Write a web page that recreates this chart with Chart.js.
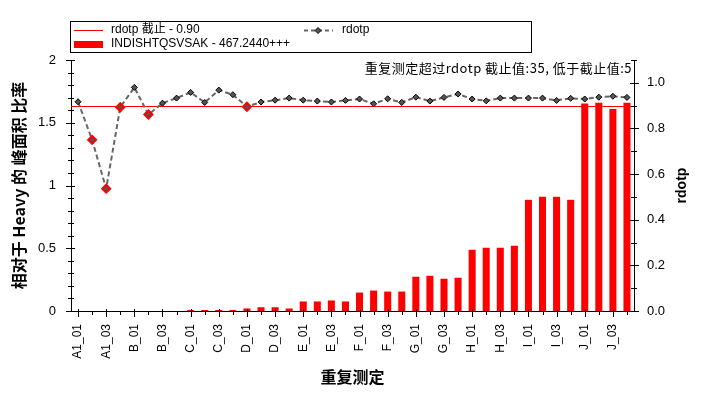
<!DOCTYPE html>
<html>
<head>
<meta charset="utf-8">
<script src="https://cdn.jsdelivr.net/npm/chart.js@4.4.1/dist/chart.umd.min.js"></script>
<style>
  body { margin: 0; background: #fff; }
  canvas { display: block; }
</style>
</head>
<body>
<canvas id="rdotp" width="702" height="398"></canvas>
<script>
const groups = ['A1', 'B', 'C', 'D', 'E', 'F', 'G', 'H', 'I', 'J'];
const replicates = ['01', '02', '03', '04'];
const categories = groups.flatMap(g => replicates.map(r => g + '_' + r));

// peak area ratio to heavy (left axis)
const areaRatio = [
    0, 0, 0, 0, 0, 0, 0, 0,
    0.008, 0.008, 0.008, 0.008,
    0.02, 0.03, 0.03, 0.02,
    0.076, 0.076, 0.084, 0.076,
    0.147, 0.163, 0.155, 0.155,
    0.273, 0.281, 0.257, 0.265,
    0.488, 0.504, 0.504, 0.52,
    0.886, 0.91, 0.91, 0.886,
    1.653, 1.66, 1.61, 1.66
];

// rdotp (right axis)
const rdotp = [
    0.917, 0.75, 0.536, 0.893, 0.98, 0.861, 0.911, 0.933,
    0.958, 0.914, 0.968, 0.948, 0.895, 0.916, 0.924, 0.933,
    0.924, 0.92, 0.916, 0.923, 0.929, 0.908, 0.930, 0.914,
    0.937, 0.92, 0.936, 0.951, 0.929, 0.921, 0.933, 0.933,
    0.933, 0.933, 0.923, 0.932, 0.929, 0.937, 0.941, 0.936
];

const cutoff = 0.90;
const peptideLabel = 'INDISHTQSVSAK - 467.2440+++';

const latin = "'Liberation Sans', Arial, 'Noto Sans CJK SC', sans-serif";
const cjk = "'Noto Sans CJK SC', 'Liberation Sans', sans-serif";

const above = rdotp.filter(v => v >= cutoff).length;
const below = rdotp.length - above;

const flagged = rdotp.map(v => v < cutoff);

// axis tick marks, long ones where there is a label
const tickMarks = {
    id: 'tickMarks',
    afterDraw(chart) {
        const ctx = chart.ctx;
        ctx.save();
        ctx.strokeStyle = '#000';
        ctx.lineWidth = 1;
        const x = chart.scales.x;
        x.ticks.forEach((t, i) => {
            const px = Math.round(x.getPixelForTick(i)) + 0.5;
            const major = i % 2 === 0;
            ctx.beginPath();
            ctx.moveTo(px, x.top - (major ? 2 : 0));
            ctx.lineTo(px, x.top + (major ? 6 : 4));
            ctx.stroke();
        });
        ['y', 'y1'].forEach(id => {
            const s = chart.scales[id];
            const edge = id === 'y' ? s.right : s.left;
            const dir = id === 'y' ? -1 : 1;
            s.ticks.forEach(t => {
                const py = Math.round(s.getPixelForValue(t.value)) + 0.5;
                const major = t.label !== '';
                const out = major ? 5 : 3;
                const inn = major ? 4 : 3;
                ctx.beginPath();
                ctx.moveTo(edge - dir * inn, py);
                ctx.lineTo(edge + dir * out, py);
                ctx.stroke();
            });
        });
        ctx.restore();
    }
};

// cutoff line on the rdotp axis
const cutoffLine = {
    id: 'cutoffLine',
    beforeDatasetsDraw(chart) {
        const ctx = chart.ctx;
        const area = chart.chartArea;
        const py = Math.round(chart.scales.y1.getPixelForValue(cutoff)) + 0.5;
        ctx.save();
        ctx.strokeStyle = '#ff0000';
        ctx.lineWidth = 1;
        ctx.beginPath();
        ctx.moveTo(area.left, py);
        ctx.lineTo(area.right, py);
        ctx.stroke();
        ctx.restore();
    }
};

// titles, note and legend box
const decorations = {
    id: 'decorations',
    afterDraw(chart) {
        const ctx = chart.ctx;
        const area = chart.chartArea;
        const midY = (area.top + area.bottom) / 2;
        ctx.save();
        ctx.fillStyle = '#000';
        ctx.textBaseline = 'middle';
        ctx.textAlign = 'center';

        ctx.font = 'bold 16px ' + cjk;
        ctx.fillText('重复测定', (area.left + area.right) / 2, 377);

        ctx.save();
        ctx.translate(19, midY);
        ctx.rotate(-Math.PI / 2);
        ctx.font = 'bold 16px ' + cjk;
        ctx.fillText('相对于 Heavy 的 峰面积 比率', 0, 0);
        ctx.restore();

        ctx.save();
        ctx.translate(682, midY);
        ctx.rotate(-Math.PI / 2);
        ctx.font = 'bold 14px ' + latin;
        ctx.fillText('rdotp', 0, 0);
        ctx.restore();

        ctx.textAlign = 'right';
        ctx.font = '13px ' + cjk;
        ctx.letterSpacing = '0.5px';
        ctx.fillText('重复测定超过rdotp 截止值:' + above + ', 低于截止值:' + below, area.right - 2, 68);
        ctx.letterSpacing = '0px';

        // legend
        ctx.strokeStyle = '#000';
        ctx.lineWidth = 1;
        ctx.strokeRect(70.5, 21.5, 461, 31);
        ctx.textAlign = 'left';
        ctx.font = '12px ' + latin;

        ctx.strokeStyle = '#ff0000';
        ctx.beginPath();
        ctx.moveTo(74, 30.5);
        ctx.lineTo(103, 30.5);
        ctx.stroke();
        ctx.fillText('rdotp 截止 - ' + cutoff.toFixed(2), 111, 30);

        ctx.fillStyle = '#ff0000';
        ctx.fillRect(74, 41, 29, 7);
        ctx.fillStyle = '#000';
        ctx.fillText(peptideLabel, 111, 44);

        ctx.strokeStyle = '#666';
        ctx.lineWidth = 2;
        ctx.setLineDash([4, 3]);
        ctx.beginPath();
        ctx.moveTo(304, 30.5);
        ctx.lineTo(333, 30.5);
        ctx.stroke();
        ctx.setLineDash([]);
        ctx.fillStyle = '#555';
        ctx.strokeStyle = '#000';
        ctx.lineWidth = 1;
        ctx.beginPath();
        ctx.moveTo(318, 27.5);
        ctx.lineTo(321, 30.5);
        ctx.lineTo(318, 33.5);
        ctx.lineTo(315, 30.5);
        ctx.closePath();
        ctx.fill();
        ctx.stroke();
        ctx.fillStyle = '#000';
        ctx.fillText('rdotp', 342, 30);
        ctx.restore();
    }
};

const data = {
    labels: categories,
    datasets: [{
        type: 'line',
        label: 'rdotp',
        data: rdotp,
        yAxisID: 'y1',
        borderColor: '#666',
        borderWidth: 2,
        borderDash: [5, 3],
        pointStyle: 'rectRot',
        pointRadius: flagged.map(f => f ? 4 : 3),
        pointBackgroundColor: '#555',
        pointBorderColor: flagged.map(f => f ? '#ff0000' : '#000'),
        pointBorderWidth: flagged.map(f => f ? 2 : 1),
        tension: 0,
        order: 0
    }, {
        type: 'bar',
        label: peptideLabel,
        data: areaRatio,
        yAxisID: 'y',
        backgroundColor: '#ff0000',
        barPercentage: 0.5,
        categoryPercentage: 1.0,
        order: 1
    }]
};

const config = {
    data: data,
    options: {
        responsive: false,
        animation: false,
        layout: { padding: { top: 60, left: 0, right: 0, bottom: 0 } },
        plugins: {
            legend: { display: false },
            tooltip: { enabled: false }
        },
        scales: {
            x: {
                offset: true,
                grid: { display: false, drawTicks: false },
                border: { display: true, color: '#000', width: 1 },
                afterFit: s => { s.height = 87; },
                ticks: {
                    autoSkip: false,
                    minRotation: 90,
                    maxRotation: 90,
                    padding: 13,
                    color: '#000',
                    font: { family: latin, size: 12 },
                    callback: function (value, index) {
                        return index % 2 === 0 ? this.getLabelForValue(value) : '';
                    }
                }
            },
            y: {
                position: 'left',
                min: 0,
                max: 2,
                grid: { display: false, drawTicks: false },
                border: { display: true, color: '#000', width: 1 },
                afterFit: s => { s.width = 71; },
                ticks: {
                    stepSize: 0.1,
                    autoSkip: false,
                    padding: 15,
                    color: '#000',
                    font: { family: latin, size: 13 },
                    callback: v => Math.abs(v * 2 - Math.round(v * 2)) < 1e-6 ? String(+v.toFixed(1)) : ''
                }
            },
            y1: {
                position: 'right',
                min: 0,
                max: 1.1,
                grid: { display: false, drawTicks: false },
                border: { display: true, color: '#000', width: 1 },
                afterFit: s => { s.width = 68; },
                ticks: {
                    stepSize: 0.1,
                    autoSkip: false,
                    padding: 13,
                    color: '#000',
                    font: { family: latin, size: 13 },
                    callback: v => (Math.round(v * 10) % 2 === 0 && v < 1.05) ? v.toFixed(1) : ''
                }
            }
        }
    },
    plugins: [cutoffLine, tickMarks, decorations]
};

new Chart(document.getElementById('rdotp'), config);
</script>
</body>
</html>
